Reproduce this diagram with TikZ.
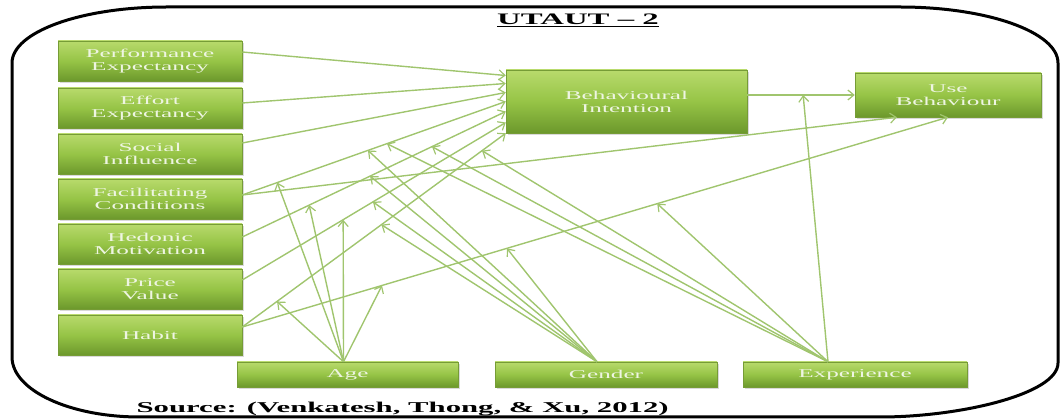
\documentclass[tikz,border=0pt]{standalone}
\usepackage{fontspec}
\setmainfont{Liberation Serif}
\newfontfamily\boxfont[FakeStretch=2.1]{Liberation Serif}
\newfontfamily\capfont[FakeStretch=2.05]{Liberation Serif}
\usetikzlibrary{arrows.meta,shadows,calc}

\definecolor{boxtop}{RGB}{184,218,108}
\definecolor{boxmid}{RGB}{150,196,70}
\definecolor{boxbot}{RGB}{108,152,44}
\definecolor{boxedge}{RGB}{118,156,54}
\definecolor{boxtext}{RGB}{238,245,226}
\definecolor{linkgreen}{RGB}{160,197,110}

\begin{document}
\begin{tikzpicture}[x=1pt,y=-1pt,
  construct/.style={rectangle, inner sep=0pt,
    top color=boxtop, bottom color=boxbot, middle color=boxmid,
    draw=boxedge, line width=0.5pt,
    drop shadow={shadow xshift=1.5pt, shadow yshift=-2pt, opacity=0.3},
    text=boxtext, align=center,
    font=\boxfont\fontsize{12}{13}\selectfont},
  leftbox/.style={construct, minimum width=184pt, minimum height=40pt},
  modbox/.style={construct, minimum height=25pt},
  rel/.style={draw=linkgreen, line width=1.4pt,
    -{Straight Barb[length=6pt,width=10pt,line width=1.2pt]}},
  frame/.style={draw=black, line width=3pt}
]
\useasboundingbox (0,0) rectangle (1061,419);

% outer rounded frame
\draw[frame] (12,63) .. controls (12,32) and (81,7) .. (167,7)
  -- (900,7) .. controls (987,7) and (1058,32) .. (1058,63)
  -- (1058,363) .. controls (1058,394) and (960,417) .. (880,417)
  -- (140,417) .. controls (69,417) and (12,390) .. (12,357) -- cycle;

% title and source
\node[font=\capfont\bfseries\fontsize{16}{18}\selectfont, anchor=base] (title)
  at (578,25) {\underline{UTAUT – 2}};
\node[font=\capfont\bfseries\fontsize{15}{17}\selectfont, anchor=base west] (src)
  at (133,413) {Source: (Venkatesh, Thong, \& Xu, 2012)};

% predictors
\node[leftbox] (pe) at (150,61)  {Performance\\Expectancy};
\node[leftbox] (ee) at (150,108) {Effort\\Expectancy};
\node[leftbox] (si) at (150,154) {Social\\Influence};
\node[leftbox] (fc) at (150,199) {Facilitating\\Conditions};
\node[leftbox] (hm) at (150,244) {Hedonic\\Motivation};
\node[leftbox] (pv) at (150,289) {Price\\Value};
\node[leftbox] (hb) at (150,335) {Habit};

% outcomes
\node[construct, minimum width=241pt, minimum height=63pt] (bi) at (626.5,101.5) {Behavioural\\Intention};
\node[construct, minimum width=186pt, minimum height=44pt] (ub) at (948,95) {Use\\Behaviour};

% moderators
\node[modbox, minimum width=221pt] (age) at (347.5,374.5) {Age};
\node[modbox, minimum width=222pt] (gen) at (606,374.5) {Gender};
\node[modbox, minimum width=224pt] (exp) at (855,374.5) {Experience};

% end points of the structural paths
\coordinate (peA) at ([yshift=9pt]pe.east);
\coordinate (peB) at ([yshift=26pt]bi.west);
\coordinate (eeA) at ([yshift=5pt]ee.east);
\coordinate (eeB) at ([yshift=18pt]bi.west);
\coordinate (siA) at ([yshift=11pt]si.east);
\coordinate (siB) at ([yshift=9pt]bi.west);
\coordinate (fcA) at ([yshift=4pt]fc.east);
\coordinate (fcB) at (bi.west);
\coordinate (fcU) at ([xshift=-51pt]ub.south);
\coordinate (hmA) at ([yshift=7pt]hm.east);
\coordinate (hmB) at ([yshift=-10pt]bi.west);
\coordinate (pvA) at ([yshift=9pt]pv.east);
\coordinate (pvB) at ([yshift=-21pt]bi.west);
\coordinate (hbA) at ([yshift=8pt]hb.east);
\coordinate (hbB) at (bi.south west);
\coordinate (hbU) at (ub.south);
\coordinate (biA) at (bi.east |- ub.west);

% structural paths
\draw[rel] (peA) -- (peB);
\draw[rel] (eeA) -- (eeB);
\draw[rel] (siA) -- (siB);
\draw[rel] (fcA) -- (fcB);
\draw[rel] (fcA) -- (fcU);
\draw[rel] (hmA) -- (hmB);
\draw[rel] (pvA) -- (pvB);
\draw[rel] (hbA) -- (hbB);
\draw[rel] (hbA) -- (hbU);
\draw[rel] (biA) -- (ub.west);

% moderator origins
\coordinate (ageO) at ([xshift=-4pt]age.north);
\coordinate (genO) at ([xshift=-9pt]gen.north);
\coordinate (expO) at ([xshift=-27pt]exp.north);

% moderated points on the paths
\coordinate (aFC) at ($(fcA)!0.133!(fcB)$);
\coordinate (aHM) at ($(hmA)!0.254!(hmB)$);
\coordinate (aPV) at ($(pvA)!0.383!(pvB)$);
\coordinate (aHB) at ($(hbA)!0.132!(hbB)$);
\coordinate (aHU) at ($(hbA)!0.198!(hbU)$);
\coordinate (gFC) at ($(fcA)!0.477!(fcB)$);
\coordinate (gHM) at ($(hmA)!0.485!(hmB)$);
\coordinate (gPV) at ($(pvA)!0.496!(pvB)$);
\coordinate (gHB) at ($(hbA)!0.528!(hbB)$);
\coordinate (gHU) at ($(hbA)!0.375!(hbU)$);
\coordinate (eFC) at ($(fcA)!0.549!(fcB)$);
\coordinate (eHM) at ($(hmA)!0.72!(hmB)$);
\coordinate (eHB) at ($(hbA)!0.91!(hbB)$);
\coordinate (eHU) at ($(hbA)!0.588!(hbU)$);
\coordinate (eBU) at ($(biA)!0.52!(ub.west)$);

% moderating effects
\foreach \t in {aFC,aHM,aPV,aHB,aHU} \draw[rel] (ageO) -- (\t);
\foreach \t in {gFC,gHM,gPV,gHB,gHU} \draw[rel] (genO) -- (\t);
\foreach \t in {eFC,eHM,eHB,eHU,eBU} \draw[rel] (expO) -- (\t);
\end{tikzpicture}
\end{document}
